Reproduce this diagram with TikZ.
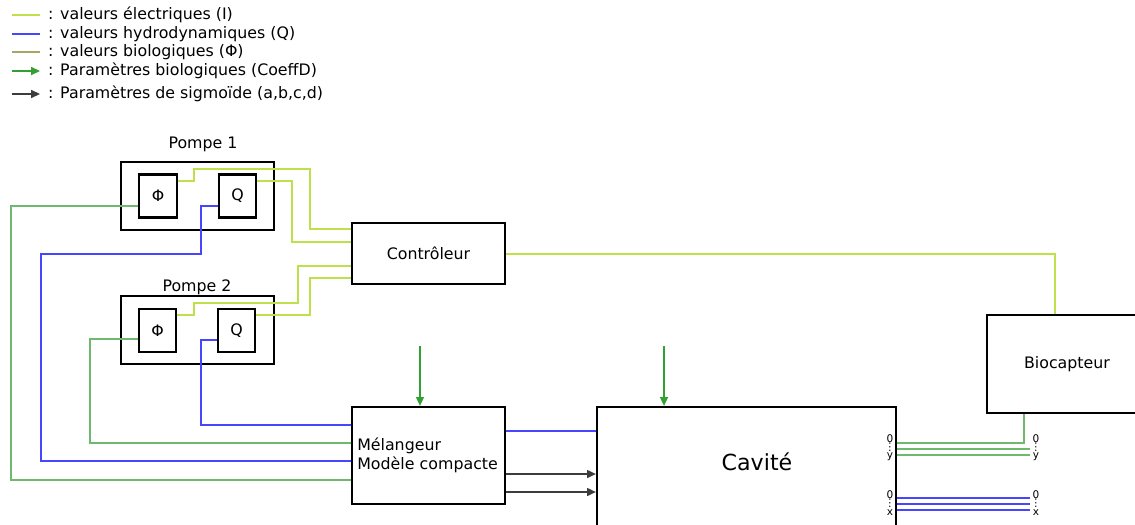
\documentclass[tikz,border=0pt]{standalone}
\usepackage{fontspec}
\setmainfont{DejaVu Sans}
\usetikzlibrary{arrows.meta}

\definecolor{jaunevert}{RGB}{190,225,75}
\definecolor{bleu}{RGB}{70,70,255}
\definecolor{vertbio}{RGB}{110,185,110}
\definecolor{olive}{RGB}{170,165,100}
\definecolor{vertparam}{RGB}{50,160,50}
\definecolor{gris}{RGB}{60,60,60}

\begin{document}
\begin{tikzpicture}[x=0.02cm, y=-0.02cm, font=\fontsize{9}{11}\selectfont,
  bloc/.style={draw, line width=1.3pt, inner sep=1pt},
  elec/.style={draw=jaunevert, line width=0.85pt},
  hydro/.style={draw=bleu, line width=0.85pt},
  biol/.style={draw=vertbio, line width=0.85pt},
  param/.style={draw=vertparam, line width=0.85pt, -{Triangle[length=5pt,width=4.5pt]}},
  sigm/.style={draw=gris, line width=0.85pt, -{Triangle[length=5pt,width=4.5pt]}},
  port/.style={font=\fontsize{6}{4.6}\selectfont, align=center, inner sep=0pt}]
  \useasboundingbox (0,0) rectangle (1135,524);
  \clip (0,0) rectangle (1135,524);

  % La legende
  \draw[elec] (12,15) -- (40,15);
  \node[anchor=west] (leg1) at (42,15) {: valeurs électriques (I)};
  \draw[hydro] (12,34) -- (40,34);
  \node[anchor=west] (leg2) at (42,34) {: valeurs hydrodynamiques (Q)};
  \draw[draw=olive, line width=0.85pt] (12,52) -- (40,52);
  \node[anchor=west] (leg3) at (42,52) {: valeurs biologiques (Φ)};
  \draw[param] (12,71) -- (40,71);
  \node[anchor=west] (leg4) at (42,71) {: Paramètres biologiques (CoeffD)};
  \draw[sigm] (12,94) -- (40,94);
  \node[anchor=west] (leg5) at (42,94) {: Paramètres de sigmoïde (a,b,c,d)};

  % Les pompes
  \node[bloc, minimum width=3.06cm, minimum height=1.36cm] (pompe1) at (197.5,196) {};
  \node (lpompe1) at (203,144) {Pompe 1};
  \node[bloc, minimum width=0.76cm, minimum height=0.86cm] (phi1) at (158,196) {Φ};
  \node[bloc, minimum width=0.74cm, minimum height=0.86cm] (q1) at (237.5,196) {Q};

  \node[bloc, minimum width=3.06cm, minimum height=1.36cm] (pompe2) at (197.5,330) {};
  \node (lpompe2) at (197,287) {Pompe 2};
  \node[bloc, minimum width=0.74cm, minimum height=0.86cm] (phi2) at (157.5,330.5) {Φ};
  \node[bloc, minimum width=0.74cm, minimum height=0.86cm] (q2) at (236.5,330.5) {Q};

  % Les blocs
  \node[bloc, minimum width=3.06cm, minimum height=1.22cm] (ctrl) at (428.5,253.5) {Contrôleur};
  \node[bloc, minimum width=3.06cm, minimum height=1.94cm, text width=2.85cm, align=left] (melange) at (428.5,455.5) {Mélangeur\\Modèle compacte};
  \node[bloc, minimum width=5.98cm, minimum height=4cm] (cavite) at (746.5,507) {};
  \node[font=\fontsize{12.6}{14}\selectfont] (lcavite) at (757,462) {Cavité};
  \node[bloc, minimum width=3.2cm, minimum height=1.96cm] (bio) at (1067,364) {Biocapteur};

  % Valeurs electriques
  \draw[elec] (phi1.east |- 0,181) -| (194,169) -| (310,229) -- (ctrl.west |- 0,229);
  \draw[elec] (q1.east |- 0,181) -| (292,242) -- (ctrl.west |- 0,242);
  \draw[elec] (phi2.east |- 0,315) -| (194,303) -| (298,266) -- (ctrl.west |- 0,266);
  \draw[elec] (q2.east |- 0,315) -| (310,278) -- (ctrl.west |- 0,278);
  \draw[elec] (ctrl.east |- 0,254) -| (1055,0 |- bio.north);

  % Valeurs hydrodynamiques
  \draw[hydro] (q1.west |- 0,206) -| (201,254) -| (41,461) -- (melange.west |- 0,461);
  \draw[hydro] (q2.west |- 0,340) -| (201,425) -- (melange.west |- 0,425);
  \draw[hydro] (melange.east |- 0,431) -- (cavite.west |- 0,431);

  % Valeurs biologiques
  \draw[biol] (phi1.west |- 0,206) -| (11,480) -- (melange.west |- 0,480);
  \draw[biol] (phi2.west |- 0,339) -| (90,443) -- (melange.west |- 0,443);

  % Les parametres
  \coordinate (coeff1) at (420,346);
  \coordinate (coeff2) at (664,346);
  \draw[param] (coeff1) -- (coeff1 |- melange.north);
  \draw[param] (coeff2) -- (coeff2 |- cavite.north);
  \draw[sigm] (melange.east |- 0,474) -- (cavite.west |- 0,474);
  \draw[sigm] (melange.east |- 0,492) -- (cavite.west |- 0,492);

  % Les sorties de la cavite
  \coordinate (fin) at (1030,0);
  \draw[biol] (cavite.east |- 0,443) -| (1024,0 |- bio.south);
  \draw[biol] (cavite.east |- 0,449) -- (fin |- 0,449);
  \draw[biol] (cavite.east |- 0,455) -- (fin |- 0,455);
  \draw[hydro] (cavite.east |- 0,498) -- (fin |- 0,498);
  \draw[hydro] (cavite.east |- 0,504) -- (fin |- 0,504);
  \draw[hydro] (cavite.east |- 0,510) -- (fin |- 0,510);
  \node[port] (py1) at (890,448) {0\\⋮\\y};
  \node[port] (py2) at (1036,448) {0\\⋮\\y};
  \node[port] (px1) at (890,503) {0\\⋮\\x};
  \node[port] (px2) at (1036,503) {0\\⋮\\x};

\end{tikzpicture}
\end{document}
